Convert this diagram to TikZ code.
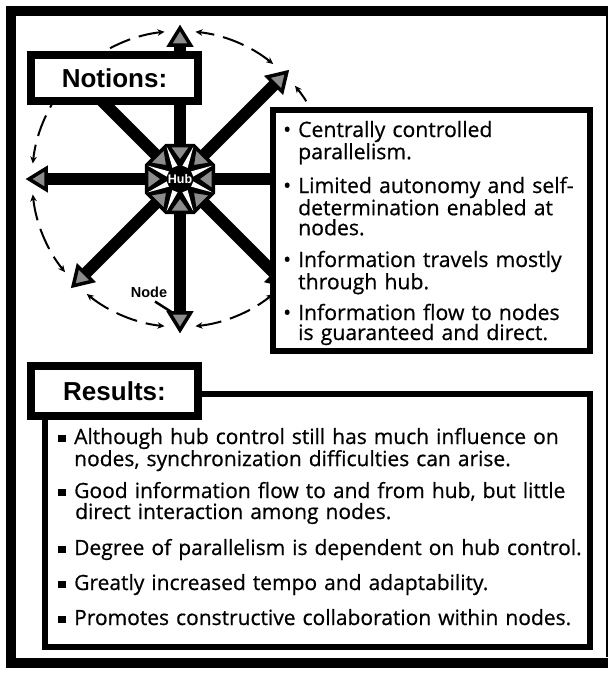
\documentclass[tikz,border=0pt]{standalone}
\usepackage{fontspec}
\setmainfont[FakeBold=0.6]{Open Sans}
\newfontfamily\headfont{Liberation Sans}
\usetikzlibrary{arrows.meta,calc}
\definecolor{headgray}{gray}{0.55}
\newcommand{\sqbullet}{\rule[2pt]{7.5pt}{7.5pt}}
\begin{document}
\begin{tikzpicture}[x=1pt,y=-1pt,
  shaft/.style={line width=12pt},
  spokehead/.style={draw=black,fill=headgray,line width=3.5pt,line join=miter},
  orbit/.style={line width=2pt,dash pattern=on 22pt off 9pt,
    {Stealth[length=7pt,width=6.5pt]}-{Stealth[length=7pt,width=6.5pt]}},
  titlebox/.style={draw,line width=8pt,fill=white,inner sep=0pt,
    font=\headfont\bfseries\fontsize{26}{26}\selectfont},
  textbox/.style={draw,line width=6pt,fill=white,inner sep=0pt},
  listtext/.style={anchor=base west,inner sep=0pt,align=left,text width=400pt,
    font=\fontsize{21.2}{20}\selectfont},
  resulttext/.style={anchor=base west,inner sep=0pt,align=left,text width=600pt,
    font=\fontsize{21}{21}\selectfont},
  frameline/.style={line width=10pt}]
\useasboundingbox (0,0) rectangle (608,673);
\clip (0,0) rectangle (608,673);
\coordinate (H) at (180,179);

% dashed orbit between neighbouring spoke tips
\foreach \a in {0,45,...,315}{
  \coordinate (O\a) at ($(H)+({-(\a+6)}:148)$);
  \draw[orbit] (O\a) arc[start angle={-(\a+6)}, end angle={-(\a+39)}, radius=148];
}

% spokes with grey arrowheads
\foreach \a in {0,45,...,315}{
  \coordinate (B\a) at ($(H)+({-\a}:134)$);
  \coordinate (T\a) at ($(H)+({-\a}:151)$);
  \draw[shaft] (H) -- (B\a);
  \draw[spokehead] (T\a) -- ($(H)+({-\a+4.48}:134.4)$) -- ($(H)+({-\a-4.48}:134.4)$) -- cycle;
}

% hub: black octagon, inward grey triangles, white star
\fill[black] ($(H)+(22.5:38)$) \foreach \k in {1,...,7}{ -- ($(H)+({22.5+45*\k}:38)$)} -- cycle;
\foreach \a in {0,45,...,315}{
  \filldraw[fill=headgray,draw=black,line width=1pt]
    ($(H)+({\a+16.5}:33.5)$) -- ($(H)+(\a:19)$) -- ($(H)+({\a-16.5}:33.5)$) -- cycle;
}
\foreach \a in {22.5,67.5,...,337.5}{
  \fill[white] ($(H)+({\a+12}:13.5)$) -- ($(H)+(\a:35)$) -- ($(H)+({\a-12}:13.5)$) -- cycle;
}
\node[circle,fill=black,minimum size=26pt,inner sep=0pt,text=white,
  font=\headfont\bfseries\fontsize{12.5}{12.5}\selectfont] (hub) at (H) {Hub};

% node label with pointer
\node[inner sep=0pt,font=\headfont\bfseries\fontsize{14.5}{14.5}\selectfont] (nodelabel) at (149,292) {Node};
\coordinate (ptr) at (173,313);
\draw[line width=2.5pt] ($(nodelabel.south)+(6,4)$) -- (ptr);

% notions
\node[titlebox,minimum width=167pt,minimum height=46pt] (notions) at (114.5,78) {Notions:};
\node[textbox,minimum width=317pt,minimum height=241pt] (notionlist) at (431.5,230.5) {};
\node[listtext] (n1) at (283,137) {\makebox[15pt][l]{•}Centrally controlled\\\hspace*{15pt}parallelism.};
\node[listtext] (n2) at (283,193) {\makebox[15pt][l]{•}Limited autonomy and self-\\\hspace*{15pt}determination enabled at\\\hspace*{15pt}nodes.};
\node[listtext] (n3) at (283,267) {\makebox[15pt][l]{•}Information travels mostly\\\hspace*{15pt}through hub.};
\node[listtext] (n4) at (283,320) {\makebox[15pt][l]{•}Information flow to nodes\\\hspace*{15pt}is guaranteed and direct.};

% results
\node[textbox,minimum width=545.5pt,minimum height=252.5pt] (resultlist) at (317.25,520.25) {};
\node[titlebox,minimum width=167pt,minimum height=50pt] (results) at (114.5,391) {Results:};
\node[resulttext] (r1) at (58,444) {\makebox[16pt][l]{\sqbullet}Although hub control still has much influence on\\\hspace*{16pt}nodes, synchronization difficulties can arise.};
\node[resulttext] (r2) at (58,498) {\makebox[16pt][l]{\sqbullet}Good information flow to and from hub, but little\\\hspace*{17pt}direct interaction among nodes.};
\node[resulttext] (r3) at (58,555) {\makebox[16pt][l]{\sqbullet}Degree of parallelism is dependent on hub control.};
\node[resulttext] (r4) at (58,590) {\makebox[16pt][l]{\sqbullet}Greatly increased tempo and adaptability.};
\node[resulttext] (r5) at (58,625) {\makebox[16pt][l]{\sqbullet}Promotes constructive collaboration within nodes.};

% outer frame: heavy left, top and bottom edges, hairline on the right
\draw[frameline] (6,11) -- (608,11);
\draw[frameline] (11,6) -- (11,668);
\draw[frameline] (6,662.5) -- (608,662.5);
\draw[line width=1.5pt] (606.8,16) -- (606.8,657);
\end{tikzpicture}
\end{document}
